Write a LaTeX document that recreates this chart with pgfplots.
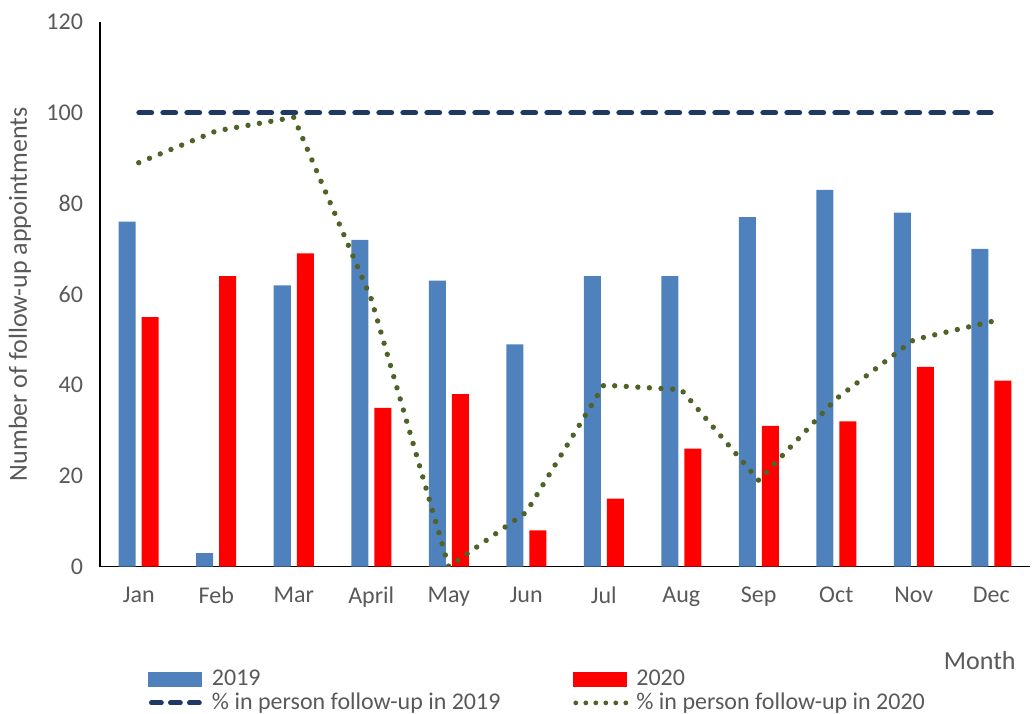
\documentclass[border=0pt]{standalone}
\usepackage{fontspec}
\setmainfont{Carlito}
\usepackage{pgfplots}
\usepackage{pgfplotstable}
\pgfplotsset{compat=1.18}

\definecolor{bar19}{HTML}{4F81BD}
\definecolor{bar20}{HTML}{FF0000}
\definecolor{line19}{HTML}{1F3864}
\definecolor{line20}{HTML}{4F6228}
\definecolor{txt}{HTML}{595959}

% month index, 2019 / 2020 counts, % in person 2019 / 2020
\pgfplotstableread{
x  y19 y20 p19 p20
0  76  55  100 89
1  3   64  100 96
2  62  69  100 99
3  72  35  100 59
4  63  38  100 0
5  49  8   100 12
6  64  15  100 40
7  64  26  100 39
8  77  31  100 19
9  83  32  100 37
10 78  44  100 50
11 70  41  100 54
}\data

\begin{document}
\begin{tikzpicture}
\path[use as bounding box] (-50pt,-73.15pt) rectangle (466.5pt,283.35pt);
\begin{axis}[
  width=465pt, height=272.35pt, scale only axis,
  xmin=-0.5, xmax=11.5, ymin=0, ymax=120,
  axis lines*=left,
  axis line style={black, line width=0.7pt},
  major tick length=0pt,
  ytick={0,20,...,120},
  xtick={0,...,11},
  xticklabels={Jan,Feb,Mar,April,May,Jun,Jul,Aug,Sep,Oct,Nov,Dec},
  /pgf/number format/assume math mode=true,
  tick label style={font=\fontsize{12}{14}\selectfont, text=txt},
  yticklabel style={xshift=-5pt},
  xticklabel style={yshift=-6.5pt},
  ylabel={Number of follow-up appointments},
  every axis y label/.style={at={(axis description cs:-0.086,0.5)}, rotate=90, anchor=center},
  ylabel style={font=\fontsize{13}{15}\selectfont, text=txt},
  xlabel={Month},
  every axis x label/.style={at={(axis description cs:0.946,-0.173)}, anchor=center},
  xlabel style={font=\fontsize{13}{15}\selectfont, text=txt},
  legend columns=2,
  legend cell align=left,
  legend style={at={(axis description cs:0.0516,-0.185)}, anchor=north west,
    draw=none, fill=none, inner sep=0pt, row sep=0pt,
    font=\fontsize{12}{14}\selectfont, text=txt,
    nodes={inner sep=1.1pt},
    /tikz/every even column/.append style={column sep=35pt},
    /tikz/every odd column/.append style={column sep=2.5pt}},
]
\addplot[ybar, bar width=8.5pt, bar shift=-5.75pt, fill=bar19, draw=none,
  legend image code/.code={\fill[bar19] (0pt,-3.75pt) rectangle (27pt,3.75pt);}]
  table[x=x, y=y19]{\data};
\addlegendentry{2019}
\addplot[ybar, bar width=8.5pt, bar shift=5.75pt, fill=bar20, draw=none,
  legend image code/.code={\fill[bar20] (0pt,-3.75pt) rectangle (27pt,3.75pt);}]
  table[x=x, y=y20]{\data};
\addlegendentry{2020}
\addplot[line19, line width=2.4pt, dash pattern=on 6.5pt off 5.5pt, line cap=round, no markers,
  legend image code/.code={\draw[line19, line width=2.4pt, dash pattern=on 5pt off 4.5pt, line cap=round] (1.5pt,0pt) -- (27pt,0pt);}]
  table[x=x, y=p19]{\data};
\addlegendentry{\% in person follow-up in 2019}
\addplot[line20, line width=2.7pt, dash pattern=on 0pt off 5.8pt, line cap=round, no markers,
  legend image code/.code={\draw[line20, line width=2.4pt, dash pattern=on 0pt off 5pt, line cap=round] (1.5pt,0pt) -- (27pt,0pt);}]
  table[x=x, y=p20]{\data};
\addlegendentry{\% in person follow-up in 2020}
\end{axis}
\end{tikzpicture}
\end{document}
